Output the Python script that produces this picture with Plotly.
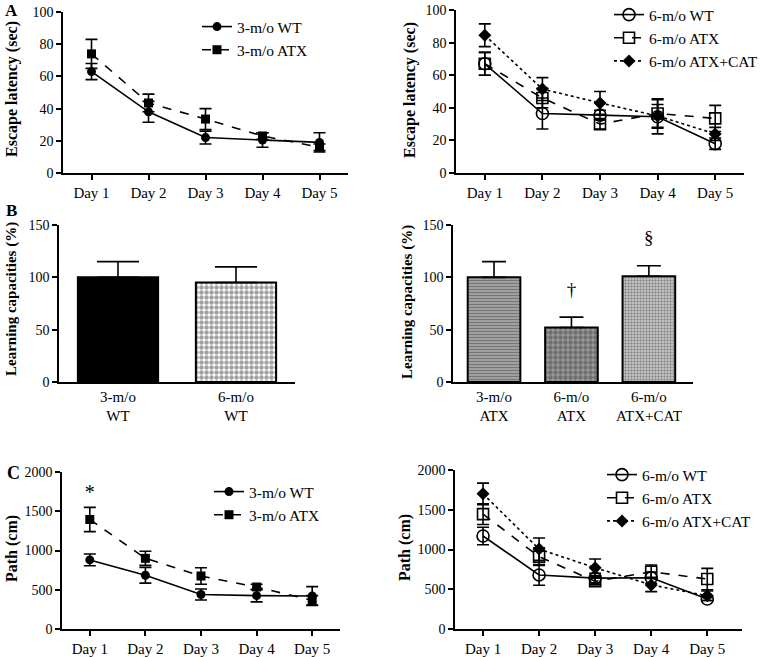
import plotly.graph_objects as go

W, H = 762, 657
FONT = "Liberation Serif, Times New Roman, serif"

# ---- data ----
DAYS = ["Day 1", "Day 2", "Day 3", "Day 4", "Day 5"]

# A: escape latency (sec)
LAT_3M_WT = [63, 38, 22, 20.5, 19]
LAT_3M_WT_ERR = [5, 6.5, 4, 4.5, 6]
LAT_3M_ATX = [74, 43.5, 33.5, 23, 16]
LAT_3M_ATX_ERR = [9, 5.5, 6.5, 2, 2]
LAT_6M_WT = [67, 36.5, 35.5, 34.5, 18]
LAT_6M_WT_ERR = [7, 9.5, 3, 10.5, 3.5]
LAT_6M_ATX = [67, 46, 30, 36.5, 33.5]
LAT_6M_ATX_ERR = [7, 6, 3, 9, 8]
LAT_6M_CAT = [84.5, 51.5, 43, 35, 24]
LAT_6M_CAT_ERR = [7, 7, 7, 7, 4]

# B: learning capacities (%)
GROUPS_WT = ["3-m/o<br>WT", "6-m/o<br>WT"]
LC_WT = [100, 95]
LC_WT_ERR = [15, 15]
GROUPS_ATX = ["3-m/o<br>ATX", "6-m/o<br>ATX", "6-m/o<br>ATX+CAT"]
LC_ATX = [100, 52, 101]
LC_ATX_ERR = [15, 10, 10]
LC_ATX_MARKS = ["", "†", "§"]

# C: path length (cm)
PATH_3M_WT = [880, 685, 440, 425, 420]
PATH_3M_WT_ERR = [75, 100, 70, 80, 120]
PATH_3M_ATX = [1395, 900, 675, 535, 365]
PATH_3M_ATX_ERR = [155, 90, 105, 35, 60]
PATH_6M_WT = [1170, 680, 640, 645, 378]
PATH_6M_WT_ERR = [110, 130, 60, 70, 20]
PATH_6M_ATX = [1445, 910, 600, 720, 628]
PATH_6M_ATX_ERR = [130, 110, 45, 85, 135]
PATH_6M_CAT = [1700, 1005, 770, 555, 418]
PATH_6M_CAT_ERR = [135, 140, 110, 85, 60]


def px(x0, x1):
    return [x0 / W, x1 / W]


def py(top, bottom):
    return [1 - bottom / H, 1 - top / H]


fig = go.Figure()


def line_trace(x, y, err, name, symbol, dash, xa, ya, leg, size=9):
    open_sym = symbol.endswith("open")
    fig.add_trace(go.Scatter(
        x=x, y=y, name=name, mode="lines+markers",
        xaxis=xa, yaxis=ya, legend=leg,
        line=dict(color="black", width=1.6, dash=dash),
        marker=dict(symbol=symbol, size=size, color="black",
                    line=dict(color="black", width=1.6 if open_sym else 0)),
        error_y=dict(type="data", array=err, color="black", thickness=1.6, width=6),
    ))


# A left
line_trace(DAYS, LAT_3M_WT, LAT_3M_WT_ERR, "3-m/o WT", "circle", "solid", "x", "y", "legend")
line_trace(DAYS, LAT_3M_ATX, LAT_3M_ATX_ERR, "3-m/o ATX", "square", "dash", "x", "y", "legend")
# A right
line_trace(DAYS, LAT_6M_WT, LAT_6M_WT_ERR, "6-m/o WT", "circle-open", "solid", "x2", "y2", "legend2", 12)
line_trace(DAYS, LAT_6M_ATX, LAT_6M_ATX_ERR, "6-m/o ATX", "square-open", "dash", "x2", "y2", "legend2", 11)
line_trace(DAYS, LAT_6M_CAT, LAT_6M_CAT_ERR, "6-m/o ATX+CAT", "diamond", "dot", "x2", "y2", "legend2", 10)
# C left
line_trace(DAYS, PATH_3M_WT, PATH_3M_WT_ERR, "3-m/o WT", "circle", "solid", "x5", "y5", "legend3")
line_trace(DAYS, PATH_3M_ATX, PATH_3M_ATX_ERR, "3-m/o ATX", "square", "dash", "x5", "y5", "legend3")
# C right
line_trace(DAYS, PATH_6M_WT, PATH_6M_WT_ERR, "6-m/o WT", "circle-open", "solid", "x6", "y6", "legend4", 12)
line_trace(DAYS, PATH_6M_ATX, PATH_6M_ATX_ERR, "6-m/o ATX", "square-open", "dash", "x6", "y6", "legend4", 11)
line_trace(DAYS, PATH_6M_CAT, PATH_6M_CAT_ERR, "6-m/o ATX+CAT", "diamond", "dot", "x6", "y6", "legend4", 10)

# significance star over 3-m/o ATX day 1
fig.add_trace(go.Scatter(
    x=[DAYS[0]], y=[PATH_3M_ATX[0] + PATH_3M_ATX_ERR[0] + 170], mode="text", text=["*"],
    textfont=dict(size=20, color="black"), xaxis="x5", yaxis="y5", showlegend=False,
))

# B left bars
fig.add_trace(go.Bar(
    x=GROUPS_WT, y=LC_WT, xaxis="x3", yaxis="y3", showlegend=False, width=0.68,
    marker=dict(
        color=["black", "white"],
        line=dict(color="black", width=2),
        pattern=dict(shape=["", "."], fgcolor="black", bgcolor=["black", "white"],
                     size=5, solidity=0.62),
    ),
    error_y=dict(type="data", symmetric=False, array=LC_WT_ERR, arrayminus=[0, 0],
                 color="black", thickness=1.6, width=21),
))

# B right bars
fig.add_trace(go.Bar(
    x=GROUPS_ATX, y=LC_ATX, xaxis="x4", yaxis="y4", showlegend=False, width=0.68,
    marker=dict(
        color=["#a8a8a8", "#9a9a9a", "#cfcfcf"],
        line=dict(color="black", width=2),
        pattern=dict(shape=["-", ".", "."], fgcolor=["#4a4a4a", "black", "#3c3c3c"],
                     bgcolor=["#a8a8a8", "#9a9a9a", "#d4d4d4"],
                     size=[3, 5, 3], solidity=[0.45, 0.6, 0.5]),
    ),
    error_y=dict(type="data", symmetric=False, array=LC_ATX_ERR, arrayminus=[0, 0, 0],
                 color="black", thickness=1.6, width=12),
))
fig.add_trace(go.Scatter(
    x=GROUPS_ATX, y=[v + e + 25 for v, e in zip(LC_ATX, LC_ATX_ERR)],
    mode="text", text=LC_ATX_MARKS, textfont=dict(size=19, color="black"),
    xaxis="x4", yaxis="y4", showlegend=False,
))

axis_common = dict(
    showline=True, linecolor="black", linewidth=1.6, ticks="outside", ticklen=5,
    tickwidth=1.6, tickcolor="black", showgrid=False, zeroline=False,
    tickfont=dict(size=14, color="black", family=FONT),
)
x_ticks = {**axis_common, "tickfont": dict(size=15, color="black", family=FONT)}
x_bar = {**x_ticks, "ticks": ""}

fig.update_layout(
    width=W, height=H,
    margin=dict(l=0, r=0, t=0, b=0, autoexpand=False),
    paper_bgcolor="white", plot_bgcolor="white",
    font=dict(family=FONT, color="black", size=14),
    xaxis=dict(domain=px(63, 348), range=[-0.5, 4.5], anchor="y", **x_ticks),
    yaxis=dict(domain=py(12, 173), range=[0, 100], dtick=20, anchor="x", **axis_common),
    xaxis2=dict(domain=px(456, 744), range=[-0.5, 4.5], anchor="y2", **x_ticks),
    yaxis2=dict(domain=py(10, 173), range=[0, 100], dtick=20, anchor="x2", **axis_common),
    xaxis3=dict(domain=px(59, 295), range=[-0.5, 1.5], anchor="y3", **x_bar),
    yaxis3=dict(domain=py(225, 382), range=[0, 150], dtick=50, anchor="x3", **axis_common),
    xaxis4=dict(domain=px(453, 693), range=[-0.53, 2.57], anchor="y4", **x_bar),
    yaxis4=dict(domain=py(225, 382), range=[0, 150], dtick=50, anchor="x4", **axis_common),
    xaxis5=dict(domain=px(62, 340), range=[-0.5, 4.5], anchor="y5", **x_ticks),
    yaxis5=dict(domain=py(472, 629), range=[0, 2000], dtick=500, anchor="x5", **axis_common),
    xaxis6=dict(domain=px(455, 742), range=[-0.5, 4.62], anchor="y6", **x_ticks),
    yaxis6=dict(domain=py(470, 629), range=[0, 2000], dtick=500, anchor="x6", **axis_common),
)

leg_common = dict(xanchor="left", yanchor="top", bgcolor="rgba(0,0,0,0)",
                  font=dict(size=15.5, color="black", family=FONT), itemwidth=30,
                  tracegroupgap=0)
fig.update_layout(
    legend=dict(x=197 / W, y=1 - 10 / H, **leg_common),
    legend2=dict(x=609 / W, y=1 + 2 / H, **leg_common),
    legend3=dict(x=209 / W, y=1 - 475 / H, **leg_common),
    legend4=dict(x=602 / W, y=1 - 458 / H, **leg_common),
)

# panel letters and y-axis titles
texts = [
    ("A", 11, 11, 0, 17), ("B", 11, 210, 0, 17), ("C", 13, 473, 0, 18),
    ("Escape latency (sec)", 12, 89, -90, 16),
    ("Escape latency (sec)", 410, 90, -90, 16),
    ("Learning capacities (%)", 12, 299, -90, 15),
    ("Learning capacities (%)", 407, 302, -90, 15),
    ("Path (cm)", 12, 549, -90, 16),
    ("Path (cm)", 405, 548, -90, 16),
]
for t, x, y, ang, sz in texts:
    fig.add_annotation(text=f"<b>{t}</b>", x=x / W, y=1 - y / H, xref="paper", yref="paper",
                       xanchor="center", yanchor="middle", showarrow=False, textangle=ang,
                       font=dict(size=sz, color="black", family=FONT))

fig.write_html("out.html", config={"displayModeBar": False},
               post_script="document.body.style.margin='0';")
